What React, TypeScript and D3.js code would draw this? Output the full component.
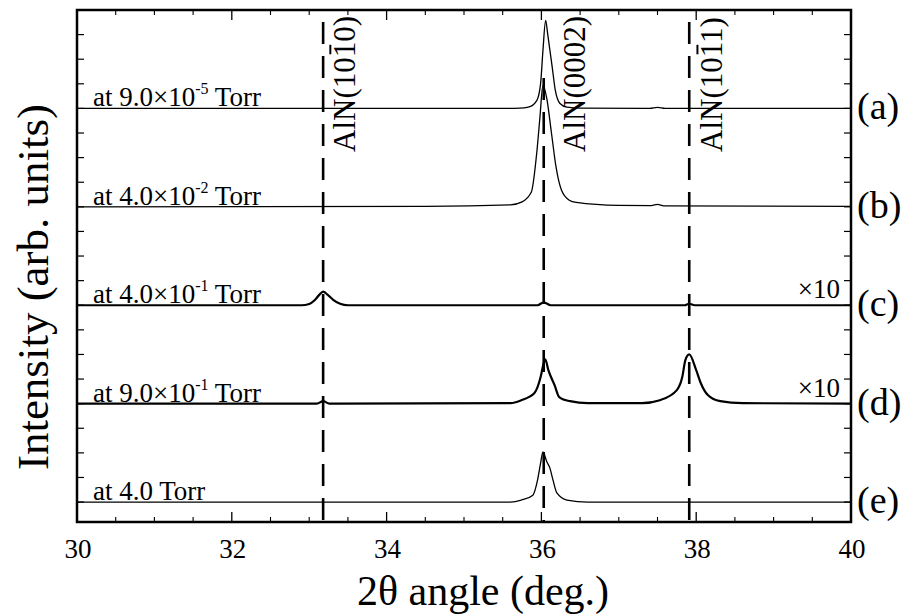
import React from "react";
import * as d3 from "d3";

// ---- data ----
const xTicks = [30, 32, 34, 36, 38, 40];
const traceTags = ["(a)", "(b)", "(c)", "(d)", "(e)"];
const tracePressure = ["9.0", "4.0", "4.0", "9.0", "4.0"];
const traceExponent = ["-5", "-2", "-1", "-1", ""];
const traceScale = ["", "", "×10", "×10", ""];
const traceOffsets = [17, 13, 9, 5, 1];
const traceBold = [false, false, true, true, false];

const peakPositions = [33.18, 36.03, 37.91];
const peakMillerA = ["AlN(10", "AlN(00", "AlN(10"];
const peakMillerBar = ["1", "0", "1"];
const peakMillerB = ["0)", "2)", "1)"];
const peakHasBar = [true, false, true];

// intensity above each trace's baseline (arb. units), [2θ, I]
const traceA: [number, number][] = [
  [30, 0], [35.5, 0], [35.72, 0.01], [35.83, 0.05], [35.94, 0.32], [35.99, 1.02],
  [36.02, 2.36], [36.055, 3.58], [36.08, 3.05], [36.14, 1.67], [36.18, 0.73],
  [36.24, 0.2], [36.33, 0.05], [36.5, 0.01], [37.4, 0], [37.5, 0.04], [37.6, 0], [40, 0],
];
const traceB: [number, number][] = [
  [30, 0], [34.5, 0.02], [35.6, 0.08], [35.75, 0.2], [35.87, 0.6], [35.94, 2.2],
  [35.98, 3.6], [36.02, 4.95], [36.07, 4.4], [36.13, 3.0], [36.19, 1.6], [36.26, 0.67],
  [36.36, 0.27], [36.45, 0.18], [37.0, 0.06], [37.42, 0.05], [37.5, 0.1], [37.58, 0.04], [40, 0.02],
];
const traceC: [number, number][] = [
  [30, 0], [32.9, 0], [33.0, 0.05], [33.07, 0.2], [33.13, 0.42], [33.18, 0.55],
  [33.24, 0.42], [33.31, 0.22], [33.4, 0.06], [33.5, 0], [35.95, 0], [36.03, 0.12],
  [36.12, 0], [37.85, 0], [37.91, 0.06], [37.98, 0], [40, 0],
];
const traceD: [number, number][] = [
  [30, 0], [33.1, 0], [33.18, 0.1], [33.26, 0], [35.6, 0.02], [35.74, 0.14], [35.91, 0.43],
  [35.99, 1.08], [36.03, 1.65], [36.05, 1.8], [36.09, 1.36], [36.17, 0.75], [36.23, 0.27],
  [36.37, 0.1], [36.6, 0.02], [37.3, 0.02], [37.53, 0.14], [37.75, 0.55], [37.82, 1.08],
  [37.86, 1.77], [37.91, 2.0], [38.0, 1.36], [38.06, 0.83], [38.15, 0.35], [38.31, 0.1],
  [38.6, 0.02], [40, 0],
];
const traceE: [number, number][] = [
  [30, 0], [35.6, 0], [35.74, 0.08], [35.89, 0.28], [35.95, 0.89], [35.99, 1.59],
  [36.02, 2.04], [36.07, 1.64], [36.11, 1.38], [36.15, 0.89], [36.2, 0.37], [36.33, 0.08],
  [36.6, 0], [40, 0],
];
const traces = [traceA, traceB, traceC, traceD, traceE];

const FONT = "Liberation Serif, Times New Roman, DejaVu Serif, serif";
const tf = { fontFamily: FONT };

export default function App() {
  const left = 77, right = 851, top = 10, bottom = 522;
  const x = d3.scaleLinear().domain([30, 40]).range([left, right]);
  const y = d3.scaleLinear().domain([0.19, 21]).range([bottom, top]);

  const minorX = d3.range(30.5, 40, 0.5).filter((v) => Math.abs(v / 2 - Math.round(v / 2)) > 1e-6);
  const majorX = xTicks.filter((v) => v > 30 && v < 40);
  const yTicks = d3.range(1, 21, 1);

  const labelOffsets = [32, 41, 33];
  const fs = 31;
  // advance widths (em) of the serif font used to place the overbar
  const preWidth = (s: string) => {
    const w: Record<string, number> = { A: 0.722, l: 0.278, N: 0.722, "(": 0.333, "0": 0.5, "1": 0.5 };
    return s.split("").reduce((a, c) => a + (w[c] ?? 0.5), 0) * fs;
  };

  return (
    <svg width={908} height={614} style={{ position: "absolute", left: 0, top: 0, display: "block", background: "#fff", fontFamily: FONT }}>
      {/* dashed reference lines */}
      {peakPositions.map((p, i) => (
        <line key={"dl" + i} x1={x(p)} x2={x(p)} y1={i === 1 ? 78 : 22} y2={bottom}
          stroke="#000" strokeWidth={2.6} strokeDasharray="22,12" />
      ))}
      {/* traces */}
      {traces.map((t, i) => {
        const off = traceOffsets[i];
        const line = d3.line<[number, number]>()
          .x((d) => x(d[0]))
          .y((d) => y(off + d[1]))
          .curve(d3.curveMonotoneX);
        return (
          <path key={"tr" + i} d={line(t) || ""} fill="none" stroke="#000"
            strokeWidth={traceBold[i] ? 2.2 : 1.3} strokeLinejoin="round" />
        );
      })}
      {/* frame */}
      <rect x={left} y={top} width={right - left} height={bottom - top} fill="none" stroke="#000" strokeWidth={2.5} />
      {/* x ticks */}
      {majorX.map((v) => (
        <g key={"mx" + v}>
          <line x1={x(v)} x2={x(v)} y1={bottom} y2={bottom - 10} stroke="#000" strokeWidth={1.3} />
          <line x1={x(v)} x2={x(v)} y1={top} y2={top + 10} stroke="#000" strokeWidth={1.3} />
        </g>
      ))}
      {minorX.map((v) => (
        <g key={"nx" + v}>
          <line x1={x(v)} x2={x(v)} y1={bottom} y2={bottom - 5} stroke="#000" strokeWidth={1.1} />
          <line x1={x(v)} x2={x(v)} y1={top} y2={top + 5} stroke="#000" strokeWidth={1.1} />
        </g>
      ))}
      {/* y ticks */}
      {yTicks.map((v) => (
        <g key={"yt" + v}>
          <line x1={left} x2={left + 7} y1={y(v)} y2={y(v)} stroke="#000" strokeWidth={1.2} />
          <line x1={right} x2={right - 7} y1={y(v)} y2={y(v)} stroke="#000" strokeWidth={1.2} />
        </g>
      ))}
      {/* x tick labels */}
      {xTicks.map((v) => (
        <text key={"xl" + v} style={tf} x={x(v) + 1} y={558} fontSize={27} textAnchor="middle">{String(v)}</text>
      ))}
      {/* axis titles */}
      <text style={tf} x={483} y={605} fontSize={42} textAnchor="middle">2θ angle (deg.)</text>
      <text style={tf} transform={`translate(48,${287}) rotate(-90)`} fontSize={45} textAnchor="middle">Intensity (arb. units)</text>
      {/* trace labels */}
      {traceOffsets.map((off, i) => (
        <text key={"tl" + i} style={tf} x={93} y={y(off) - 2} fontSize={27}>
          {"at " + tracePressure[i]}
          {traceExponent[i] ? (
            <>
              <tspan>{"×10"}</tspan>
              <tspan dy={-12} fontSize={16}>{traceExponent[i]}</tspan>
              <tspan dy={12}>{" Torr"}</tspan>
            </>
          ) : (
            <tspan>{" Torr"}</tspan>
          )}
        </text>
      ))}
      {/* scale factors */}
      {traceOffsets.map((off, i) => traceScale[i] ? (
        <text key={"sf" + i} style={tf} x={840} y={y(off) - 7} fontSize={27} textAnchor="end">{traceScale[i]}</text>
      ) : null)}
      {/* tags */}
      {traceOffsets.map((off, i) => (
        <text key={"tg" + i} style={tf} x={857} y={y(off) + 11} fontSize={38}>{traceTags[i]}</text>
      ))}
      {/* peak labels */}
      {peakPositions.map((p, i) => {
        const pre = preWidth(peakMillerA[i]);
        return (
          <g key={"pl" + i} transform={`translate(${x(p) + labelOffsets[i]},152) rotate(-90)`}>
            <text style={tf} x={0} y={0} fontSize={fs}>
              {peakMillerA[i] + peakMillerBar[i] + peakMillerB[i]}
            </text>
            {peakHasBar[i] ? (
              <line x1={pre + 3} x2={pre + fs * 0.5 - 3} y1={-fs * 0.8} y2={-fs * 0.8} stroke="#000" strokeWidth={2} />
            ) : null}
          </g>
        );
      })}
    </svg>
  );
}
